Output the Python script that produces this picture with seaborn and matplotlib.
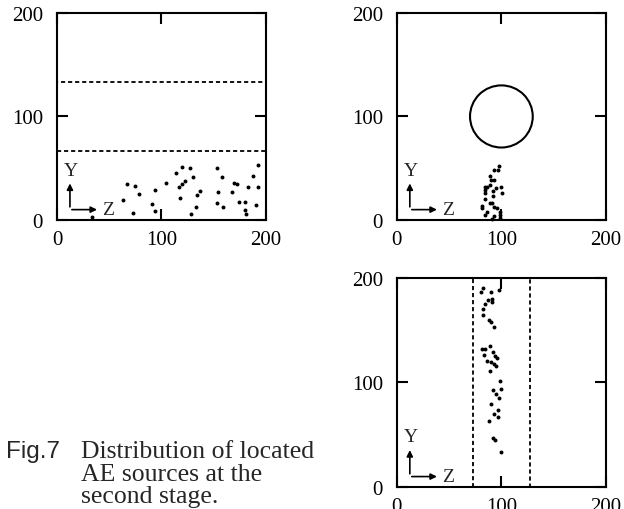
import matplotlib
matplotlib.use("Agg")
import matplotlib.pyplot as plt
import matplotlib.patches as patches
import pandas as pd
import seaborn as sns

# --- data (Z horizontal, Y vertical) ---
p1_z = [33.5, 62.8, 66.7, 73.0, 74.6, 78.5, 90.9, 93.5, 93.8,
        104.0, 114.2, 116.7, 117.7, 119.6, 119.6, 122.5, 127.3, 128.2, 129.9,
        133.0, 133.7, 136.5, 152.8, 153.1, 153.8, 157.6, 159.2, 167.2, 169.4,
        172.5, 174.2, 179.6, 179.9, 180.9, 182.8, 187.9, 190.4, 192.0, 192.3]
p1_y = [3.2, 19.6, 35.1, 6.8, 32.9, 25.1, 15.5, 29.0, 8.4,
        35.4, 45.4, 32.2, 21.3, 51.5, 34.8, 38.0, 50.5, 5.8, 41.2,
        12.9, 24.2, 28.3, 16.4, 49.9, 27.4, 41.2, 12.2, 27.4, 35.4,
        34.8, 17.7, 17.7, 10.0, 5.8, 31.6, 42.8, 14.8, 53.1, 32.2]

p2_z = [97.9, 96.4, 92.5, 89.0, 89.7, 92.8, 83.9, 85.8, 89.0, 83.9,
        84.2, 84.2, 99.2, 94.7, 91.6, 100.2, 91.6, 89.0, 90.9, 81.0,
        81.0, 92.8, 96.0, 86.4, 84.5, 92.8, 98.6, 98.9, 98.9, 91.2]
p2_y = [52.5, 48.3, 48.3, 42.5, 38.6, 38.6, 31.9, 32.2, 33.5, 29.0,
        25.8, 20.6, 31.6, 30.9, 27.7, 26.1, 23.2, 16.1, 16.8, 13.8,
        11.6, 12.3, 11.6, 7.4, 4.8, 3.9, 7.4, 4.8, 2.0, 0.6]

p3_z = [97.9, 82.6, 80.4, 90.2, 87.4, 91.2, 91.2, 84.2, 82.6, 82.0,
        88.0, 89.7, 92.8, 89.0, 81.3, 84.2, 92.2, 83.3, 93.8, 95.4,
        86.4, 89.7, 93.1, 94.7, 89.3, 98.6, 91.9, 99.2, 94.4, 97.9,
        90.2, 96.9, 93.1, 96.6, 87.7, 91.6, 93.8, 99.8]
p3_y = [188.8, 190.2, 186.6, 186.9, 178.9, 179.9, 177.0, 175.4, 170.6, 164.9,
        159.5, 158.2, 152.8, 135.2, 132.1, 132.1, 129.2, 126.0, 125.1, 123.2,
        120.3, 119.9, 117.7, 115.8, 111.0, 101.1, 92.8, 93.5, 88.7, 85.2,
        79.1, 73.7, 70.1, 66.7, 62.9, 46.6, 45.0, 33.2]

band1_y = [66.7, 133.3]      # dashed band, first panel
hole_center = (100, 100)     # circle, second panel
hole_radius = 30
band3_z = [73, 127]          # dashed band, third panel

ticks = [0, 100, 200]

sns.set_theme(style="ticks")
plt.rcParams['font.family'] = ['Liberation Serif', 'DejaVu Serif']
plt.rcParams['axes.linewidth'] = 1.5
plt.rcParams['axes.axisbelow'] = False
plt.rcParams['xtick.direction'] = 'in'
plt.rcParams['ytick.direction'] = 'in'
plt.rcParams['xtick.major.size'] = 8
plt.rcParams['ytick.major.size'] = 8
plt.rcParams['xtick.major.width'] = 1.5
plt.rcParams['ytick.major.width'] = 1.5
plt.rcParams['xtick.top'] = True
plt.rcParams['ytick.right'] = True

fig = plt.figure(figsize=(6.24, 5.10), dpi=100)
ax1 = fig.add_axes([0.0913, 0.5667, 0.335, 0.406])
ax2 = fig.add_axes([0.636, 0.5667, 0.335, 0.406])
ax3 = fig.add_axes([0.636, 0.0431, 0.335, 0.41])


def style_axes(ax):
    ax.set_xlim(0, 200)
    ax.set_ylim(0, 200)
    ax.set_xticks(ticks)
    ax.set_yticks(ticks)
    ax.set_axisbelow(False)
    ax.tick_params(direction='in', length=8, width=1.5, top=True, right=True,
                   labelsize=15, colors='black')
    ax.tick_params(axis='x', pad=7)
    ax.tick_params(axis='y', pad=10)
    for s in ax.spines.values():
        s.set_color('black')
    ax.set_xlabel('')
    ax.set_ylabel('')
    # little Y/Z direction marker
    ax.annotate('', xy=(0.062, 0.19), xytext=(0.062, 0.05), xycoords='axes fraction',
                arrowprops=dict(arrowstyle='-|>', color='black', lw=1.2, mutation_scale=9))
    ax.annotate('', xy=(0.205, 0.05), xytext=(0.058, 0.05), xycoords='axes fraction',
                arrowprops=dict(arrowstyle='-|>', color='black', lw=1.2, mutation_scale=9))
    ax.text(0.066, 0.2, 'Y', transform=ax.transAxes, fontsize=14, ha='center', va='bottom')
    ax.text(0.215, 0.05, 'Z', transform=ax.transAxes, fontsize=14, ha='left', va='center')


for ax, z, y in [(ax1, p1_z, p1_y), (ax2, p2_z, p2_y), (ax3, p3_z, p3_y)]:
    df = pd.DataFrame({'Z': z, 'Y': y})
    sns.scatterplot(data=df, x='Z', y='Y', ax=ax, color='black', s=8,
                    linewidth=0, clip_on=False)
    style_axes(ax)

dash = (0, (2.3, 1.6))

# panel 1 dashed band
ax1.add_patch(patches.Rectangle((0, band1_y[0]), 200, band1_y[1] - band1_y[0],
                                fill=False, ls=dash, lw=1.3, ec='black'))

# panel 2 circle
ax2.add_patch(patches.Circle(hole_center, hole_radius, fill=False, lw=1.5, ec='black'))

# panel 3 dashed band
ax3.add_patch(patches.Rectangle((band3_z[0], 0), band3_z[1] - band3_z[0], 200,
                                fill=False, ls=dash, lw=1.3, ec='black',
                                clip_on=False))

# caption
fig.text(6 / 624, 1 - 458 / 510, 'Fig.7', family=['Liberation Sans', 'DejaVu Sans'],
         fontsize=17.5, ha='left', va='baseline')
fig.text(81 / 624, 1 - 458 / 510, 'Distribution of located', fontsize=18.5,
         ha='left', va='baseline')
fig.text(81 / 624, 1 - 481 / 510, 'AE sources at the', fontsize=18.5,
         ha='left', va='baseline')
fig.text(81 / 624, 1 - 503 / 510, 'second stage.', fontsize=18.5,
         ha='left', va='baseline')

fig.savefig('out.png', dpi=100)
